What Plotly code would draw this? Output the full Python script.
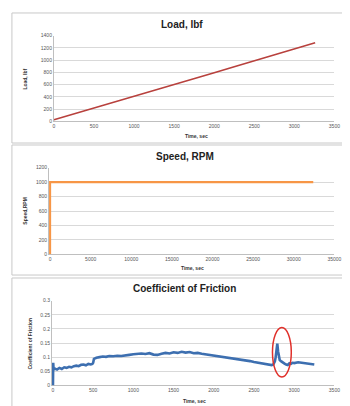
import plotly.graph_objects as go

# ---------------- data ----------------
load_time = [0, 250, 500, 750, 1000, 1250, 1500, 1750, 2000, 2250, 2500, 2750, 3000, 3260]
load_lbf = [25, 120, 215, 312, 410, 505, 600, 698, 795, 893, 990, 1085, 1180, 1285]

speed_time = [0, 0, 32400]
speed_rpm = [0, 1000, 1000]

cof_time = [0, 3, 8, 20, 50, 80, 110, 140, 170, 200, 230, 260, 290, 320, 350, 380, 410, 440,
            470, 490, 500, 510, 540, 580, 620, 660, 700, 750, 800, 850, 900, 950, 1000, 1050,
            1100, 1150, 1200, 1250, 1300, 1350, 1400, 1450, 1500, 1550, 1600, 1650, 1700, 1750,
            1800, 1850, 1900, 1950, 2000, 2050, 2100, 2150, 2200, 2250, 2300, 2350, 2400, 2450,
            2500, 2550, 2600, 2650, 2700, 2720, 2740, 2760, 2770, 2780, 2790, 2800, 2810, 2820,
            2840, 2860, 2880, 2900, 2920, 2940, 2960, 2980, 3000, 3050, 3100, 3150, 3200, 3250]
cof_vals = [0.0, 0.08, 0.055, 0.06, 0.056, 0.062, 0.058, 0.064, 0.062, 0.066, 0.064, 0.068,
            0.07, 0.068, 0.073, 0.074, 0.071, 0.076, 0.074, 0.076, 0.08, 0.094, 0.098, 0.1,
            0.102, 0.101, 0.104, 0.103, 0.105, 0.104, 0.107, 0.108, 0.11, 0.112, 0.113, 0.111,
            0.114, 0.109, 0.108, 0.112, 0.115, 0.113, 0.117, 0.115, 0.119, 0.116, 0.118, 0.114,
            0.115, 0.112, 0.11, 0.107, 0.104, 0.102, 0.1, 0.098, 0.097, 0.094, 0.093, 0.09,
            0.088, 0.086, 0.083, 0.08, 0.078, 0.075, 0.073, 0.072, 0.074, 0.085, 0.1, 0.12,
            0.148, 0.12, 0.1, 0.09, 0.085, 0.08, 0.077, 0.074, 0.072, 0.078, 0.076, 0.08,
            0.079, 0.082, 0.08, 0.079, 0.076, 0.074]

load_ticks = [0, 200, 400, 600, 800, 1000, 1200, 1400]
time_ticks = [0, 500, 1000, 1500, 2000, 2500, 3000, 3500]
speed_yticks = [0, 200, 400, 600, 800, 1000, 1200]
speed_xticks = [0, 5000, 10000, 15000, 20000, 25000, 30000, 35000]
cof_ticks = [0, 0.05, 0.1, 0.15, 0.2, 0.25, 0.3]
cof_ticklabels = ["0", "0.05", "0.1", "0.15", "0.2", "0.25", "0.3"]

W, H = 350, 406
def px(x):
    return x / W
def py(y):
    return 1 - y / H

fig = go.Figure()
fig.add_trace(go.Scatter(x=load_time, y=load_lbf, mode="lines",
                         line=dict(color="#b8413d", width=1.6), xaxis="x", yaxis="y"))
fig.add_trace(go.Scatter(x=speed_time, y=speed_rpm, mode="lines",
                         line=dict(color="#f79646", width=2.2), xaxis="x2", yaxis="y2"))
fig.add_trace(go.Scatter(x=cof_time, y=cof_vals, mode="lines",
                         line=dict(color="#3d6fb0", width=2.6), xaxis="x3", yaxis="y3"))

tickfont = dict(family="Liberation Sans, Arial", size=5, color="#555")
grid = "#d9d9d9"
axis_common = dict(showgrid=False, showline=True, linecolor="#bfbfbf", linewidth=1,
                   ticks="", tickfont=tickfont, zeroline=False, layer="below traces",
                   tickformat="d")
yaxis_common = dict(showgrid=True, gridcolor=grid, gridwidth=1, showline=True,
                    linecolor="#bfbfbf", linewidth=1, ticks="", tickfont=tickfont,
                    zeroline=False, layer="below traces")

fig.update_layout(
    width=W, height=H, margin=dict(l=0, r=0, t=0, b=0),
    paper_bgcolor="white", plot_bgcolor="white", showlegend=False,
    xaxis=dict(domain=[px(46), px(333)], range=[0, 3500], tickvals=time_ticks,
               anchor="y", **axis_common),
    yaxis=dict(domain=[py(112), py(25)], range=[0, 1400], tickvals=load_ticks,
               anchor="x", **yaxis_common),
    xaxis2=dict(domain=[px(41), px(333)], range=[-120, 35000], tickvals=speed_xticks,
                anchor="y2", **axis_common),
    yaxis2=dict(domain=[py(247), py(159)], range=[0, 1200], tickvals=speed_yticks,
                anchor="x2", **yaxis_common),
    xaxis3=dict(domain=[px(44), px(333)], range=[-12, 3500], tickvals=time_ticks,
                anchor="y3", **axis_common),
    yaxis3=dict(domain=[py(380), py(294)], range=[0, 0.3], tickvals=cof_ticks,
                ticktext=cof_ticklabels, anchor="x3", **yaxis_common),
)

titlefont = dict(family="Liberation Sans, Arial", size=10, color="#222")
labfont = dict(family="Liberation Sans, Arial", size=5, color="#333")
ann = []
ann.append(dict(x=px(177), y=py(14), text="<b>Load, lbf</b>", font=titlefont))
ann.append(dict(x=px(180), y=py(148), text="<b>Speed, RPM</b>", font=titlefont))
ann.append(dict(x=px(180), y=py(282), text="<b>Coefficient of Friction</b>", font=titlefont))
ann.append(dict(x=px(192), y=py(127), text="<b>Time, sec</b>", font=labfont))
ann.append(dict(x=px(188), y=py(261), text="<b>Time, sec</b>", font=labfont))
ann.append(dict(x=px(190), y=py(396), text="<b>Time, sec</b>", font=labfont))
ann.append(dict(x=px(16), y=py(69), text="<b>Load, lbf</b>", font=labfont, textangle=-90))
ann.append(dict(x=px(16), y=py(203), text="<b>Speed,RPM</b>", font=labfont, textangle=-90))
ann.append(dict(x=px(22), y=py(337), text="<b>Coefficient of Friction</b>", font=labfont, textangle=-90))
for a in ann:
    a.update(xref="paper", yref="paper", showarrow=False, xanchor="center", yanchor="middle")
fig.update_layout(annotations=ann)

shapes = []
for (y0, y1) in [(2, 134), (136, 268), (271, 403)]:
    shapes.append(dict(type="rect", xref="paper", yref="paper", x0=px(3), x1=px(347),
                       y0=py(y1), y1=py(y0), line=dict(color="#c8c8c8", width=1)))
shapes.append(dict(type="circle", xref="x3", yref="y3", x0=2730, x1=2964, y0=0.03, y1=0.205,
                   line=dict(color="#e0302a", width=1.5)))
fig.update_layout(shapes=shapes)

fig.write_html("out.html")
